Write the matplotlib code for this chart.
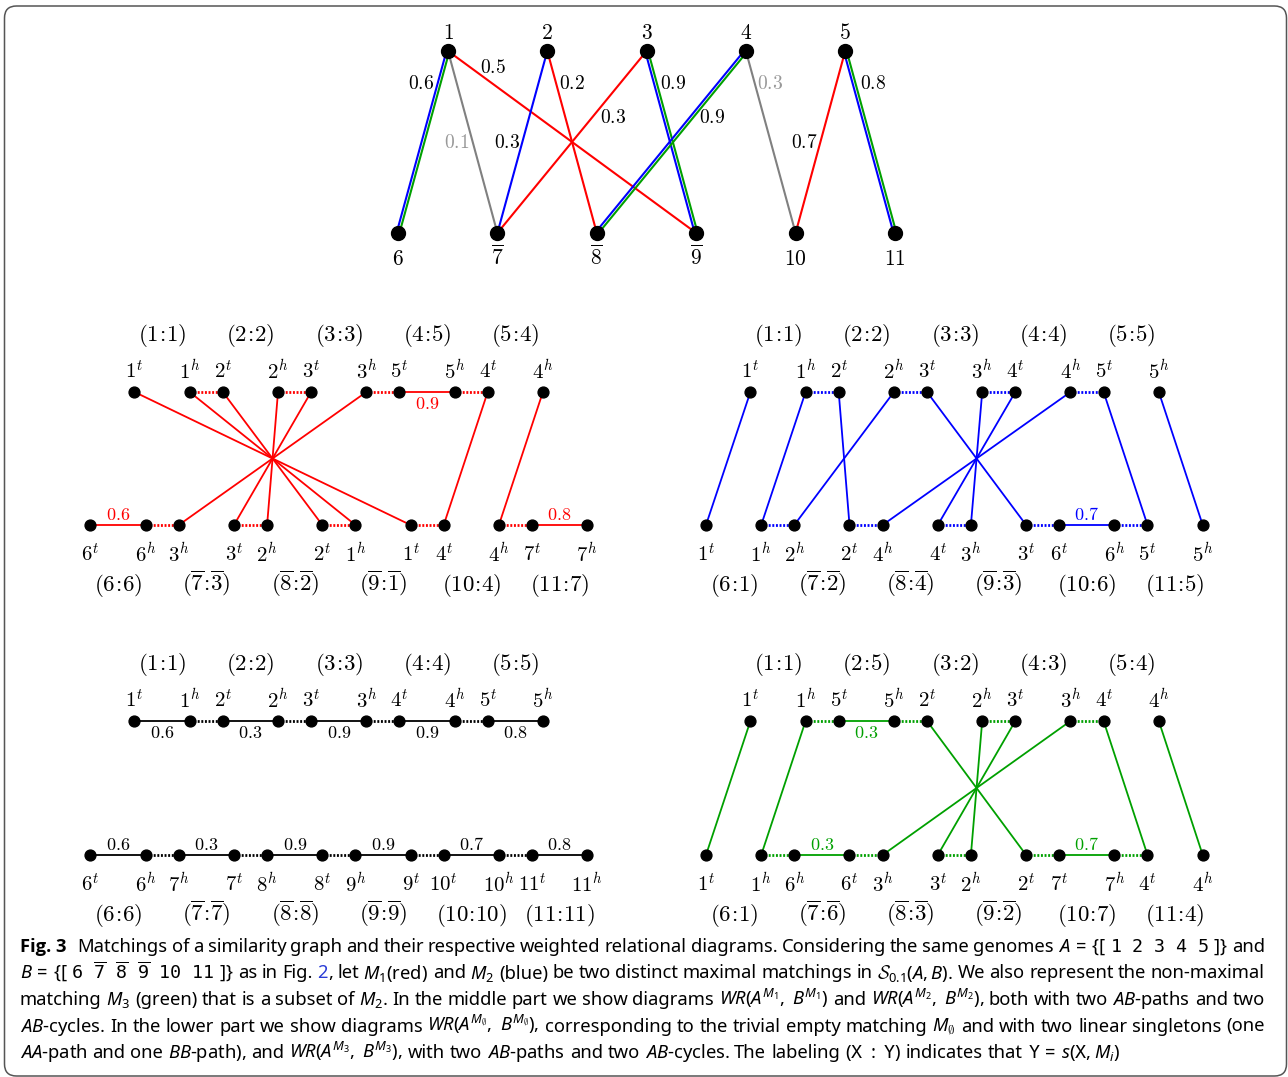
import matplotlib
matplotlib.use('Agg')
import matplotlib.pyplot as plt
from matplotlib import font_manager
from matplotlib.patches import FancyBboxPatch
import numpy as np

# genomes A and B, similarity graph
genes_a = ['1', '2', '3', '4', '5']
genes_b = ['6', '7', '8', '9', '10', '11']
reversed_b = ['7', '8', '9']
edges = [('1', '6', 0.6), ('1', '7', 0.1), ('1', '9', 0.5), ('2', '7', 0.3),
         ('2', '8', 0.2), ('3', '7', 0.3), ('3', '9', 0.9), ('4', '8', 0.9),
         ('4', '10', 0.3), ('5', '10', 0.7), ('5', '11', 0.8)]

# matchings
m1 = [('1', '9'), ('2', '8'), ('3', '7'), ('5', '10')]
m2 = [('1', '6'), ('2', '7'), ('3', '9'), ('4', '8'), ('5', '11')]
m3 = [('1', '6'), ('3', '9'), ('4', '8'), ('5', '11')]
m_empty = []

# labels s(X, M) of each diagram
red_top = ['1', '2', '3', '5', '4']
red_bot = ['6', '3', '2', '1', '4', '7']
blue_top = ['1', '2', '3', '4', '5']
blue_bot = ['1', '2', '4', '3', '6', '5']
none_top = ['1', '2', '3', '4', '5']
none_bot = ['6', '7', '8', '9', '10', '11']
green_top = ['1', '5', '2', '3', '4']
green_bot = ['1', '6', '3', '2', '7', '4']

caption = [
    r"Matchings of a similarity graph and their respective weighted relational diagrams. Considering the same genomes $A\,=\,\{[\ \mathtt{1\ \ 2\ \ 3\ \ 4\ \ 5}\ ]\}$ and",
    r"$B\,=\,\{[\ \mathtt{6}\ \ \overline{\mathtt{7}}\ \ \overline{\mathtt{8}}\ \ \overline{\mathtt{9}}\ \ \mathtt{10}\ \ \mathtt{11}\ ]\}$ as in Fig. §2§, let $M_1$(red) and $M_2$ (blue) be two distinct maximal matchings in $\mathcal{S}_{0.1}(A,B)$. We also represent the non-maximal",
    r"matching $M_3$ (green) that is a subset of $M_2$. In the middle part we show diagrams $WR(A^{M_1},\ B^{M_1})$ and $WR(A^{M_2},\ B^{M_2})$, both with two $AB$-paths and two",
    r"$AB$-cycles. In the lower part we show diagrams $WR(A^{M_\emptyset},\ B^{M_\emptyset})$, corresponding to the trivial empty matching $M_\emptyset$ and with two linear singletons (one",
    r"$AA$-path and one $BB$-path), and $WR(A^{M_3},\ B^{M_3})$, with two $AB$-paths and two $AB$-cycles. The labeling $(\mathtt{X}\ :\ \mathtt{Y})$ indicates that $\mathtt{Y}\,=\,s(\mathtt{X},M_i)$",
]

RED, BLUE, GREEN, GRAY = '#ff0000', '#0000ff', '#00a000', '#808080'

plt.rcParams['mathtext.fontset'] = 'cm'
plt.rcParams['mathtext.rm'] = 'Noto Sans'
plt.rcParams['mathtext.it'] = 'Noto Sans:italic'
plt.rcParams['mathtext.bf'] = 'Noto Sans:bold'
plt.rcParams['mathtext.sf'] = 'Noto Sans'
plt.rcParams['mathtext.tt'] = 'DejaVu Sans Mono'
plt.rcParams['mathtext.cal'] = 'cmsy10'


def has_bold(fam):
    for f in font_manager.fontManager.ttflist:
        w = f.weight
        if f.name == fam and (w in ('bold', 'semibold', 'demibold') or (isinstance(w, int) and w >= 600)):
            return True
    return False


bold_family = next((f for f in ['Noto Sans', 'Open Sans', 'Lato', 'Roboto'] if has_bold(f)), 'DejaVu Sans')

fig = plt.figure(figsize=(12.88, 10.77), dpi=100)
ax = fig.add_axes([0, 0, 1, 1])
ax.set_xlim(0, 1288)
ax.set_ylim(1077, 0)
ax.axis('off')

ax.add_patch(FancyBboxPatch((4.5, 6), 1282, 1070,
                            boxstyle='round,pad=0,rounding_size=12',
                            fc='none', ec='#555555', lw=1.1))


def bar(g):
    return r'\overline{\mathsf{%s}}' % g if g in reversed_b else r'\mathsf{%s}' % g


# ---------- similarity graph ----------
pos = {}
for i, g in enumerate(genes_a):
    pos[g] = (448 + i * 99.3, 51)
for i, g in enumerate(genes_b):
    pos[g] = (398 + i * 99.4, 233)

# where each weight sits along its edge (fraction from top, x shift)
wpos = {('1', '6'): (0.18, -18), ('1', '7'): (0.5, -16), ('1', '9'): (0.093, 22),
        ('2', '7'): (0.5, -15), ('2', '8'): (0.18, 16), ('3', '7'): (0.363, 21),
        ('3', '9'): (0.18, 18), ('4', '8'): (0.363, 20), ('4', '10'): (0.18, 15),
        ('5', '10'): (0.5, -16), ('5', '11'): (0.18, 19)}

for a, b, w in edges:
    (x1, y1), (x2, y2) = pos[a], pos[b]
    if (a, b) in m1:
        cols = [RED]
    elif (a, b) in m3:
        cols = [BLUE, GREEN]
    elif (a, b) in m2:
        cols = [BLUE]
    else:
        cols = [GRAY]
    n = np.array([-(y2 - y1), x2 - x1]) / np.hypot(x2 - x1, y2 - y1)
    offs = [0] if len(cols) == 1 else [1.4, -1.4]
    for c, o in zip(cols, offs):
        ax.plot([x1 + o * n[0], x2 + o * n[0]], [y1 + o * n[1], y2 + o * n[1]],
                color=c, lw=1.5, zorder=2)
    t, dx = wpos[(a, b)]
    ax.text(x1 + t * (x2 - x1) + dx, y1 + t * (y2 - y1), '$%s$' % w,
            ha='center', va='center', fontsize=14,
            color='#999999' if cols == [GRAY] else 'black')

for g in genes_a + genes_b:
    x, y = pos[g]
    ax.plot(x, y, 'o', color='black', ms=10, zorder=3)
    if g in genes_a:
        ax.text(x, y - 12, '$\\mathsf{%s}$' % g, ha='center', va='baseline', fontsize=15.5)
    else:
        ax.text(x, y + 32, '$%s$' % bar(g), ha='center', va='baseline', fontsize=15.5)

# ---------- weighted relational diagrams ----------
PITCH, GW = 88.3, 55.2


def weight_of(g):
    return max(w for a, b, w in edges if g in (a, b))


def wr_diagram(top_lab, bot_lab, match, color, xt, xb, yt, yb):
    ma = [a for a, b in match]
    mb = [b for a, b in match]
    rows = []
    for genes, labs, x0, y, top, matched in ((genes_a, top_lab, xt, yt, True, ma),
                                              (genes_b, bot_lab, xb, yb, False, mb)):
        nodes = {}
        xs_all = []
        for i, (g, lab) in enumerate(zip(genes, labs)):
            ends = ['h', 't'] if g in reversed_b else ['t', 'h']
            xa, xh = x0 + i * PITCH, x0 + i * PITCH + GW
            for x, e in zip((xa, xh), ends):
                nodes[lab + e] = x
                xs_all.append(x)
                ax.text(x, y - 14 if top else y + 36, r'$\mathsf{%s}^{%s}$' % (lab, e),
                        ha='center', va='baseline', fontsize=15)
            if g in reversed_b:
                plab = r'$(%s\!:\!\overline{\mathsf{%s}})$' % (bar(g), lab)
            else:
                plab = r'$(\mathsf{%s}\!:\!\mathsf{%s})$' % (g, lab)
            ax.text((xa + xh) / 2, y - 51 if top else y + 66, plab,
                    ha='center', va='baseline', fontsize=16.5)
            if g not in matched:
                ax.plot([xa, xh], [y, y], color=color, lw=1.3, zorder=2)
                ax.text((xa + xh) / 2, y + 12 if top else y - 10, '$%s$' % weight_of(g),
                        ha='center', va='center', fontsize=13, color=color)
        for k in range(1, len(xs_all) - 1, 2):
            ax.plot([xs_all[k], xs_all[k + 1]], [y, y], color=color, lw=2,
                    ls=(0, (0.7, 0.6)), zorder=2)
        ax.plot(xs_all, [y] * len(xs_all), 'o', color='black', ms=7.8, zorder=3)
        rows.append(nodes)
    for name, x in rows[0].items():
        if name in rows[1]:
            ax.plot([x, rows[1][name]], [yt, yb], color=color, lw=1.3, zorder=2)


wr_diagram(red_top, red_bot, m1, RED, 134.5, 90.5, 392, 525)
wr_diagram(blue_top, blue_bot, m2, BLUE, 750.4, 706, 392, 525)
wr_diagram(none_top, none_bot, m_empty, 'black', 134.5, 90.5, 721, 855)
wr_diagram(green_top, green_bot, m3, GREEN, 750.4, 706, 721, 855)

# ---------- caption ----------
r = fig.canvas.get_renderer()
LEFT, RIGHT = 20, 1265
baselines = [952, 978.5, 1005, 1031.5, 1058]


def tokens_of(line):
    toks, cur, inmath = [], '', False
    for ch in line:
        if ch == '$':
            inmath = not inmath
        if ch == ' ' and not inmath:
            if cur:
                toks.append(cur)
            cur = ''
        else:
            cur += ch
    if cur:
        toks.append(cur)
    return toks


def put(s, y, size, **kw):
    t = ax.text(0, y, s, fontsize=size, family='Noto Sans', math_fontfamily='custom',
                va='baseline', ha='left', **kw)
    return t, t.get_window_extent(r).width


def caption_layout(size, final):
    made = []
    space = size * 100 / 72 * 0.26
    worst = 10.0
    for li, line in enumerate(caption):
        y = baselines[li]
        x0 = LEFT
        if li == 0:
            t, w = put('Fig. 3', y, size, fontweight='bold')
            t.set_family(bold_family)
            w = t.get_window_extent(r).width
            t.set_x(LEFT)
            made.append(t)
            x0 = LEFT + w + 2.3 * space
        words = []
        for tok in tokens_of(line):
            pieces = []
            for k, p in enumerate(tok.split('§')):
                if p:
                    pieces.append(put(p, y, size, color='#2a3cd6' if k % 2 else 'black'))
            words.append(pieces)
        total = sum(w for pcs in words for _, w in pcs)
        made += [t for pcs in words for t, _ in pcs]
        if li < 4:
            gap = (RIGHT - x0 - total) / (len(words) - 1)
            worst = min(worst, (RIGHT - x0) / (total + 0.8 * space * (len(words) - 1)))
        else:
            gap = space
        x = x0
        for pcs in words:
            for t, w in pcs:
                t.set_x(x)
                x += w
            x += gap
    if not final:
        for t in made:
            t.remove()
    return worst


CAP = 13.3
s = caption_layout(CAP, False)
caption_layout(CAP * min(1.0, s), True)

fig.savefig('out.png', dpi=100)
